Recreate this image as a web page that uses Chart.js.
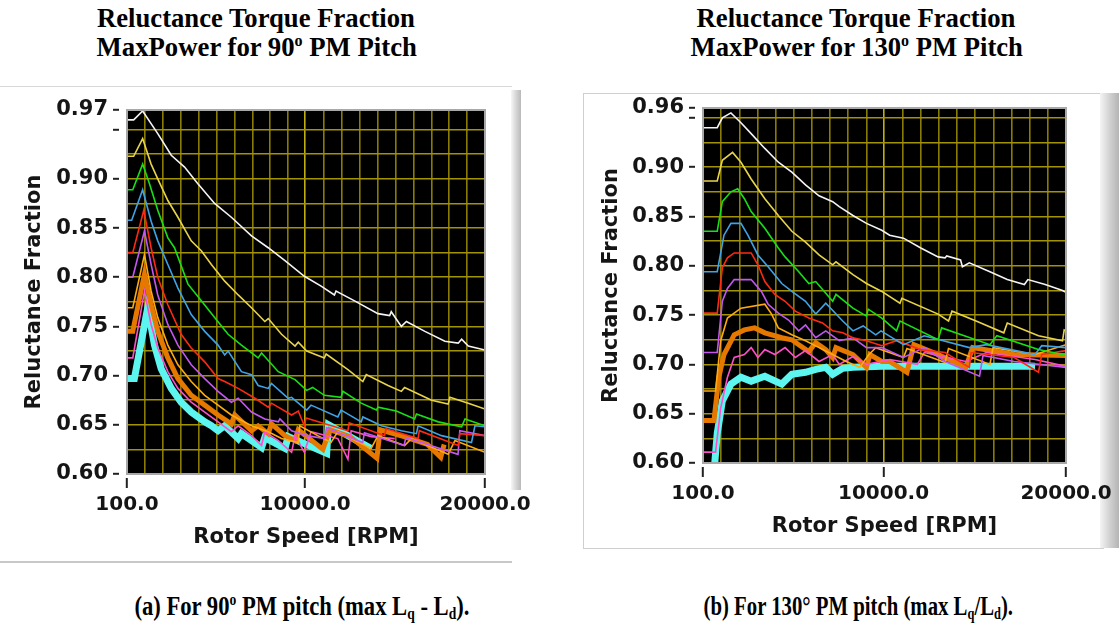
<!DOCTYPE html>
<html>
<head>
<meta charset="utf-8">
<script src="https://cdn.jsdelivr.net/npm/chart.js@4.4.0/dist/chart.umd.min.js"></script>
<style>
  body { margin: 0; width: 1119px; height: 630px; background: #fff; position: relative; overflow: hidden; }
  .box { position: absolute; }
  .txt { position: absolute; white-space: nowrap; font-family: 'Liberation Serif', 'Times New Roman', serif; font-weight: bold; color: #000; transform-origin: center center; line-height: 1; }
  sup { font-size: 0.6em; vertical-align: 0.6em; line-height: 0; }
  sub { font-size: 0.6em; vertical-align: -0.25em; line-height: 0; }
</style>
</head>
<body>

<div class="box" style="left:0;top:86px;width:512px;height:474px;border-top:1px solid #d8d8d8;border-bottom:2px solid #c8c8c8;"></div>
<div class="box" style="left:511px;top:90px;width:10px;height:400px;background:linear-gradient(to right,#f6f6f6,#d6d6d6 50%,#b9b9b9);"></div>
<div class="box" style="left:583px;top:93px;width:520px;height:454px;border:1px solid #cfcfcf;border-right:none;"></div>
<div class="box" style="left:1100px;top:93px;width:19px;height:455px;background:linear-gradient(to right,#f4f4f4,#d2d2d2 50%,#b4b4b4);"></div>

<div class="box" style="left:0;top:90px;"><canvas id="chart90" width="540" height="470"></canvas></div>
<div class="box" style="left:580px;top:90px;"><canvas id="chart130" width="539" height="459"></canvas></div>

<script>
// ---- axis ranges and tick labels ----
const xMin = 100, xMax = 20000;
const xLabels = [100, 10000, 20000];
const yLabels90 = [0.60, 0.65, 0.70, 0.75, 0.80, 0.85, 0.90, 0.97];
const yLabels130 = [0.60, 0.65, 0.70, 0.75, 0.80, 0.85, 0.90, 0.96];
const yMax90 = 0.97, yMax130 = 0.96, yMin = 0.60;

// ---- reluctance fraction curves, [rotor speed rpm, fraction] ----
// (a) 90 deg PM pitch
const white90 = [[100,0.960],[470,0.960],[970,0.969],[1810,0.946],[2560,0.924],[3300,0.912],[4040,0.895],[4970,0.875],[5900,0.861],[7020,0.842],[7950,0.830],[8880,0.817],[9960,0.801],[10890,0.791],[11630,0.782],[11720,0.786],[12750,0.776],[14050,0.763],[14700,0.761],[14790,0.765],[15350,0.750],[15630,0.755],[16660,0.745],[17770,0.735],[18510,0.733],[18700,0.737],[19070,0.730],[20000,0.726]];
const yellow90 = [[100,0.923],[470,0.923],[970,0.941],[1440,0.915],[1810,0.900],[2370,0.878],[2930,0.861],[3670,0.837],[4230,0.827],[4790,0.813],[5530,0.796],[6280,0.782],[7020,0.769],[7760,0.755],[7950,0.758],[8690,0.742],[9440,0.730],[9620,0.734],[10090,0.725],[11070,0.718],[11170,0.722],[12380,0.706],[13210,0.694],[13400,0.701],[14610,0.690],[15350,0.684],[15530,0.688],[17030,0.675],[17950,0.671],[18050,0.678],[19070,0.672],[20000,0.666]];
const green90 = [[100,0.889],[420,0.889],[970,0.915],[1350,0.895],[1810,0.868],[2370,0.840],[2740,0.830],[3490,0.793],[4230,0.776],[4970,0.759],[5720,0.742],[6460,0.731],[7390,0.718],[7580,0.723],[8510,0.704],[9440,0.696],[10090,0.685],[10420,0.688],[11070,0.680],[12000,0.678],[12100,0.684],[13120,0.672],[13960,0.665],[14050,0.668],[15070,0.664],[16090,0.656],[16190,0.661],[17400,0.653],[18700,0.648],[18890,0.656],[20000,0.649]];
const blue90 = [[100,0.858],[360,0.858],[970,0.889],[1440,0.857],[1810,0.837],[2370,0.813],[2930,0.789],[3670,0.762],[4420,0.745],[5160,0.731],[5530,0.721],[5720,0.725],[6460,0.704],[7020,0.701],[7390,0.690],[7950,0.687],[8130,0.692],[9060,0.677],[9250,0.678],[10090,0.665],[10330,0.670],[11820,0.658],[12000,0.665],[13120,0.653],[13210,0.658],[14240,0.649],[15350,0.644],[16190,0.641],[16280,0.649],[17580,0.639],[19250,0.632],[19440,0.649],[20000,0.648]];
const red90 = [[100,0.825],[420,0.825],[1030,0.868],[1440,0.830],[1810,0.800],[2370,0.772],[3110,0.742],[3670,0.728],[4420,0.714],[5160,0.697],[5530,0.694],[6280,0.687],[7210,0.677],[7950,0.668],[8130,0.672],[9250,0.660],[9620,0.664],[9960,0.649],[10050,0.657],[12380,0.644],[12450,0.652],[14420,0.639],[14500,0.646],[16280,0.636],[16350,0.644],[18510,0.629],[18600,0.641],[20000,0.639]];
const violet90 = [[100,0.800],[420,0.800],[1070,0.847],[1440,0.813],[1810,0.782],[2370,0.752],[2930,0.731],[3670,0.711],[4420,0.697],[5160,0.684],[5900,0.673],[6280,0.677],[7020,0.663],[7760,0.656],[8510,0.653],[8600,0.656],[9250,0.644],[10090,0.639],[11070,0.636],[11200,0.647],[13200,0.632],[13300,0.642],[15500,0.629],[15600,0.637],[18500,0.620],[18600,0.644],[20000,0.639]];
const gold90 = [[100,0.769],[420,0.769],[1070,0.823],[1440,0.786],[1810,0.759],[2370,0.731],[2930,0.711],[3670,0.694],[4420,0.680],[5160,0.670],[5900,0.660],[7020,0.649],[7950,0.643],[8690,0.636],[9620,0.632],[9700,0.649],[10700,0.639],[11440,0.632],[11820,0.643],[13670,0.626],[14050,0.639],[15530,0.629],[15910,0.636],[17950,0.620],[18330,0.634],[20000,0.622]];
const pink90 = [[100,0.718],[420,0.718],[1070,0.786],[1440,0.752],[1810,0.728],[2370,0.704],[2930,0.687],[3670,0.673],[4420,0.663],[5160,0.653],[5900,0.643],[6280,0.649],[7020,0.639],[7580,0.629],[7760,0.643],[8510,0.634],[9250,0.622],[9440,0.639],[9960,0.622],[10330,0.643],[11820,0.636],[12380,0.615],[12560,0.644],[13670,0.638],[14980,0.636]];
const orange90 = [[100,0.745],[420,0.745],[1070,0.803],[1440,0.772],[1810,0.745],[2370,0.718],[2930,0.697],[3670,0.680],[4420,0.670],[5160,0.660],[5900,0.651],[6090,0.660],[7020,0.644],[7390,0.649],[7950,0.641],[8130,0.651],[8880,0.639],[9440,0.634],[9620,0.645],[10990,0.625],[11370,0.645],[12500,0.638],[13990,0.616],[14170,0.645],[15500,0.638],[16800,0.630],[17540,0.617],[17730,0.630]];
const cyan90 = [[100,0.697],[510,0.697],[1250,0.769],[1630,0.731],[2000,0.707],[2560,0.687],[3110,0.673],[3670,0.663],[4420,0.653],[4790,0.649],[5160,0.644],[5530,0.649],[6280,0.636],[6460,0.641],[7580,0.627],[7760,0.637],[8880,0.626],[9060,0.638],[11200,0.621],[11300,0.650],[13650,0.626]];

// (b) 130 deg PM pitch
const white130 = [[100,0.940],[880,0.940],[1160,0.950],[1630,0.955],[2180,0.945],[2740,0.934],[3490,0.919],[4230,0.905],[4970,0.895],[5720,0.882],[6460,0.871],[7210,0.865],[7570,0.860],[8320,0.851],[9060,0.843],[9900,0.836],[10330,0.831],[11090,0.828],[12040,0.818],[12990,0.809],[13370,0.808],[13460,0.810],[14220,0.806],[14320,0.799],[14700,0.803],[15830,0.794],[16780,0.786],[17720,0.781],[17910,0.786],[18860,0.781],[19810,0.775],[20000,0.773]];
const yellow130 = [[100,0.886],[880,0.886],[1160,0.907],[1720,0.915],[2180,0.905],[2740,0.888],[3490,0.868],[4230,0.851],[4970,0.835],[5720,0.824],[6460,0.811],[7210,0.801],[7390,0.804],[8320,0.791],[9060,0.782],[9900,0.774],[10900,0.762],[11000,0.767],[12990,0.751],[13560,0.744],[13750,0.754],[15070,0.744],[16590,0.732],[16780,0.742],[18490,0.729],[19810,0.724],[19900,0.735],[20000,0.734]];
const green130 = [[100,0.835],[880,0.835],[1160,0.865],[1630,0.875],[2000,0.878],[2370,0.868],[2740,0.855],[3490,0.838],[4230,0.818],[4600,0.809],[5350,0.794],[5900,0.782],[6280,0.784],[7210,0.764],[7390,0.771],[8320,0.757],[9060,0.749],[9160,0.756],[9900,0.747],[10710,0.734],[10900,0.744],[12990,0.725],[13180,0.737],[15830,0.720],[16210,0.729],[18490,0.715],[19810,0.710],[20000,0.709]];
const blue130 = [[100,0.794],[880,0.794],[1250,0.831],[1630,0.843],[2180,0.843],[2560,0.831],[3110,0.811],[3670,0.799],[4420,0.782],[4970,0.774],[5720,0.764],[6280,0.751],[6830,0.762],[7760,0.744],[8320,0.734],[8880,0.739],[9570,0.730],[9860,0.734],[11090,0.720],[12230,0.729],[14700,0.717],[15640,0.720],[18300,0.710],[18670,0.719],[20000,0.717]];
const red130 = [[100,0.752],[880,0.752],[1160,0.798],[1440,0.808],[1810,0.813],[2740,0.813],[3110,0.801],[3490,0.784],[4040,0.771],[4600,0.764],[5160,0.754],[5900,0.747],[6650,0.742],[7210,0.734],[7760,0.732],[8320,0.727],[9060,0.724],[9900,0.719],[10710,0.724],[12040,0.715],[13370,0.712],[14700,0.697],[14800,0.712],[17160,0.707],[18490,0.692],[18670,0.710],[20000,0.714]];
const violet130 = [[100,0.712],[880,0.712],[1160,0.764],[1440,0.777],[1810,0.786],[2740,0.786],[3300,0.774],[3670,0.761],[4230,0.752],[4790,0.745],[5350,0.734],[5720,0.740],[6280,0.727],[6830,0.734],[7570,0.724],[8320,0.727],[9060,0.717],[9900,0.717],[11090,0.707],[12230,0.717],[13370,0.703],[15260,0.688],[15450,0.709],[17160,0.703],[20000,0.697]];
const gold130 = [[100,0.673],[790,0.673],[1070,0.724],[1440,0.747],[2180,0.757],[3490,0.761],[3860,0.751],[4230,0.737],[4970,0.730],[5720,0.724],[6460,0.717],[7210,0.710],[7950,0.703],[8690,0.697],[9200,0.710],[9570,0.717],[11090,0.707],[11280,0.716],[13370,0.702],[13560,0.716],[15830,0.700],[16000,0.717],[18300,0.710],[20000,0.720]];
const pink130 = [[100,0.611],[790,0.611],[1070,0.656],[1440,0.687],[1810,0.707],[2370,0.710],[2740,0.717],[3110,0.707],[3490,0.715],[4040,0.710],[4600,0.717],[5160,0.707],[5720,0.714],[6460,0.703],[7210,0.710],[7570,0.700],[8320,0.708],[9060,0.700],[10330,0.705],[11850,0.700],[12230,0.712],[14510,0.703],[15640,0.712],[18300,0.705],[20000,0.698]];
const orange130 = [[100,0.643],[700,0.643],[970,0.687],[1250,0.710],[1810,0.730],[2370,0.735],[2930,0.737],[3490,0.732],[4420,0.727],[4970,0.725],[5350,0.720],[5900,0.713],[6280,0.722],[6830,0.715],[7210,0.707],[7390,0.717],[8320,0.710],[9060,0.697],[9250,0.710],[9900,0.703],[10330,0.703],[11280,0.692],[11660,0.720],[12990,0.710],[14510,0.697],[14880,0.717],[17160,0.710],[20000,0.709]];
const cyan130 = [[700,0.590],[880,0.630],[1160,0.663],[1630,0.680],[2180,0.687],[2740,0.683],[3490,0.688],[4420,0.680],[4970,0.690],[5720,0.692],[6280,0.695],[6830,0.697],[7210,0.690],[7760,0.696],[8320,0.697],[9900,0.698],[18300,0.698]];

// ---- styles ----
const lineStyles = [
  { color: '#f4f4f4', width: 1.6 },
  { color: '#e8d44c', width: 1.6 },
  { color: '#18e018', width: 1.6 },
  { color: '#3fa3e6', width: 1.6 },
  { color: '#ff2a14', width: 1.6 },
  { color: '#c457f0', width: 1.6 },
  { color: '#ffaa10', width: 1.6 },
  { color: '#ff4fc8', width: 1.6 },
  { color: '#e67800', width: 5 },
  { color: '#5cf5f0', width: 7 },
];

const plotFrame = {
  id: 'plotFrame',
  beforeDraw(chart) {
    const { ctx, chartArea: a } = chart;
    ctx.save();
    ctx.fillStyle = '#000';
    ctx.fillRect(a.left, a.top, a.right - a.left, a.bottom - a.top);
    ctx.restore();
  },
  afterDatasetsDraw(chart) {
    const { ctx, chartArea: a } = chart;
    ctx.save();
    ctx.strokeStyle = '#a8a8a8';
    ctx.lineWidth = 2;
    ctx.strokeRect(a.left, a.top, a.right - a.left, a.bottom - a.top);
    ctx.restore();
  }
};

const near = (v, list) => list.some(l => Math.abs(l - v) < 1e-6);
const xTickFont = { family: 'DejaVu Sans', weight: 'bold', size: 20 };
const yTickFont = { family: 'DejaVu Sans', weight: 'bold', size: 21 };
const titleFont = { family: 'DejaVu Sans', weight: 'bold', size: 21 };

function makeChart(id, series, yMax, yLabels, box) {
  const datasets = series.map((pts, i) => ({
    data: pts.map(p => ({ x: p[0], y: p[1] })),
    borderColor: lineStyles[i].color,
    borderWidth: lineStyles[i].width,
    pointRadius: 0,
    tension: 0,
    fill: false,
  }));
  // grid every 0.025 on y, 20 divisions on x
  const yGrid = [];
  for (let v = yMin; v < yMax - 1e-6; v += 0.025) yGrid.push(+v.toFixed(3));
  yGrid.push(yMax);
  const xGrid = [];
  for (let i = 0; i <= 20; i++) xGrid.push(i === 10 ? 10000 : xMin + i * (xMax - xMin) / 20);

  new Chart(document.getElementById(id), {
    type: 'line',
    data: { datasets },
    plugins: [plotFrame],
    options: {
      responsive: false,
      animation: false,
      events: [],
      layout: { padding: { top: box.top, right: box.right, left: 0, bottom: 0 } },
      plugins: { legend: { display: false }, tooltip: { enabled: false } },
      scales: {
        x: {
          type: 'linear',
          min: xMin,
          max: xMax,
          afterBuildTicks: (s) => { s.ticks = xGrid.map(v => ({ value: v })); },
          afterFit: (s) => { s.height = 86; },
          border: { display: false },
          grid: {
            color: (c) => (c.tick && c.tick.value === 10000) ? '#c0ae10' : '#8a7c00',
            lineWidth: 1.6,
            drawTicks: true,
            tickLength: 14,
            tickColor: (c) => (c.tick && near(c.tick.value, xLabels)) ? '#222' : 'rgba(0,0,0,0)',
            tickWidth: 2,
            tickBorderDash: [10, 4],
            tickBorderDashOffset: 10,
          },
          ticks: {
            autoSkip: false,
            maxRotation: 0,
            padding: 5,
            color: '#151515',
            font: xTickFont,
            callback: (v) => near(v, xLabels) ? v.toFixed(1) : '',
          },
          title: { display: true, text: 'Rotor Speed [RPM]', color: '#151515', font: titleFont, padding: { top: 0, bottom: 10 } },
        },
        y: {
          min: yMin,
          max: yMax,
          afterBuildTicks: (s) => { s.ticks = yGrid.map(v => ({ value: v })); },
          afterFit: (s) => { s.width = box.axisWidth; },
          border: { display: false },
          grid: {
            color: (c) => (c.tick && Math.abs(c.tick.value - yMax) < 1e-6) ? 'rgba(0,0,0,0)' : '#a29300',
            lineWidth: 1.6,
            drawTicks: true,
            tickLength: 14,
            tickColor: (c) => (c.tick && (near(c.tick.value, yLabels) || Math.abs(c.tick.value - 0.95) < 1e-6)) ? '#222' : 'rgba(0,0,0,0)',
            tickWidth: 2,
            tickBorderDash: [6, 30],
          },
          ticks: {
            autoSkip: false,
            padding: 5,
            color: '#151515',
            font: yTickFont,
            callback: (v) => near(v, yLabels) ? v.toFixed(2) : '',
          },
          title: { display: true, text: 'Reluctance Fraction', color: '#151515', font: titleFont, padding: { top: box.titlePad, bottom: 0 } },
        },
      },
    },
  });
}

makeChart('chart90',
  [white90, yellow90, green90, blue90, red90, violet90, gold90, pink90, orange90, cyan90],
  yMax90, yLabels90, { top: 20, right: 55, axisWidth: 127, titlePad: 22 });
makeChart('chart130',
  [white130, yellow130, green130, blue130, red130, violet130, gold130, pink130, orange130, cyan130],
  yMax130, yLabels130, { top: 18, right: 53, axisWidth: 123, titlePad: 19 });

// ---- headings and captions ----
const headings = [
  { html: 'Reluctance Torque Fraction', cx: 256, cy: 18, w: 318, size: 28 },
  { html: 'MaxPower for 90<sup>o</sup> PM Pitch', cx: 257, cy: 47, w: 321, size: 28 },
  { html: 'Reluctance Torque Fraction', cx: 856, cy: 18, w: 319, size: 28 },
  { html: 'MaxPower for 130<sup>o</sup> PM Pitch', cx: 857, cy: 47, w: 333, size: 28 },
  { html: '(a) For 90<sup>o</sup> PM pitch (max L<sub>q</sub> - L<sub>d</sub>).', cx: 302, cy: 606, w: 335, size: 27 },
  { html: '(b) For 130° PM pitch (max L<sub>q</sub>/L<sub>d</sub>).', cx: 858, cy: 606, w: 310, size: 27 },
];
headings.forEach(t => {
  const el = document.createElement('div');
  el.className = 'txt';
  el.style.fontSize = t.size + 'px';
  el.innerHTML = t.html;
  document.body.appendChild(el);
  const w = el.offsetWidth, h = el.offsetHeight;
  el.style.left = (t.cx - w / 2) + 'px';
  el.style.top = (t.cy - h / 2) + 'px';
  el.style.transform = 'scaleX(' + (t.w / w).toFixed(3) + ')';
});
</script>
</body>
</html>
